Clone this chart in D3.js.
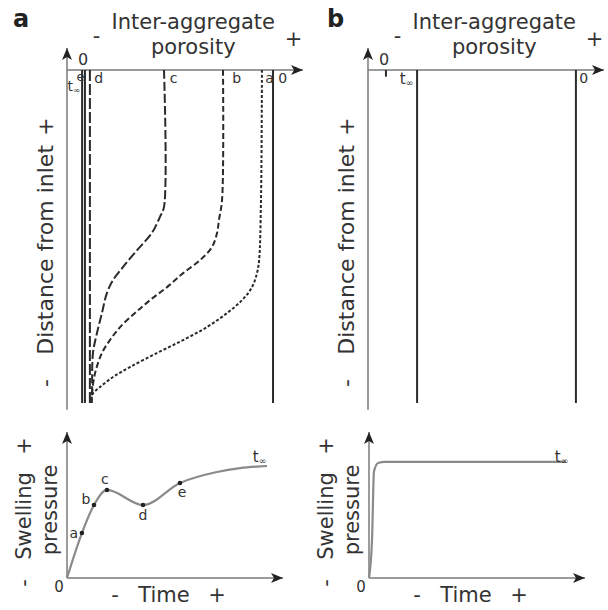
<!DOCTYPE html>
<html>
<head>
<meta charset="utf-8">
<title>Swelling profiles</title>
<script src="https://d3js.org/d3.v7.min.js"></script>
<style>
  body { margin: 0; background: #fff; }
  svg { display: block; font-family: "DejaVu Sans", Verdana, sans-serif; }
</style>
</head>
<body>
<div id="chart"></div>
<script>
// ---- data (porosity %, distance %) ----
const profileA = [[82.6,100],[82.2,61],[81.4,42.9],[80.5,39.0],[78.4,34.8],[74.2,30.9],[67.8,27.0],
                  [59.3,22.8],[49.2,18.9],[38.1,15.0],[26.7,10.8],[19.5,7.8],[14.0,4.8],[10.6,2.4],[10.4,0]];
const profileB = [[66.1,100],[65.7,61],[64.4,55.0],[63.6,51.1],[61.4,46.8],[56.4,42.9],[49.2,39.0],
                  [42.4,34.8],[35.2,30.9],[28.8,27.0],[22.5,22.8],[18.2,18.9],[14.8,15.0],[11.9,9.0],[10.6,3.0],[10.4,0]];
const profileC = [[41.1,100],[41.1,58.9],[39.4,55.9],[36.0,51.1],[29.7,45.9],[23.7,40.8],[19.5,36.9],
                  [16.9,33.0],[14.8,27.0],[12.7,21.0],[11.0,15.0],[10.6,3.0],[10.4,0]];
const straightA = [["tinf", 6.4], ["e", 7.6], ["d", 9.7], ["0", 87.3]];
const straightB = [["tinf", 20.8], ["0", 88.1]];
const labelsA = [["e", 4.0], ["d", 11.5], ["c", 43.5], ["b", 70.0], ["a", 84.0], ["0", 89.5]];

// ---- data (time %, swelling pressure %) ----
const swellA = [[0,0],[6.9,30.8],[12.5,50.0],[18.5,60.3],[35.2,50.0],[52.3,65.1],[69.4,72.6],[80.1,75.3],[92.6,76.7]];
const swellPointsA = [["a",6.9,30.8],["b",12.5,50.0],["c",18.5,60.3],["d",35.2,50.0],["e",52.3,65.1]];
const swellB = [[0,0],[1.4,26],[2.3,73],[4.2,78.8],[7.4,79.5],[91.2,79.5]];

const W = 608, H = 610;
const ink = "#333", axisCol = "#7a7a7a", curveCol = "#8a8a8a";

const svg = d3.select("#chart").append("svg").attr("width", W).attr("height", H);
svg.append("defs").append("marker")
  .attr("id", "arrow").attr("viewBox", "0 0 12 10")
  .attr("refX", 12).attr("refY", 5)
  .attr("markerWidth", 12).attr("markerHeight", 10)
  .attr("markerUnits", "userSpaceOnUse").attr("orient", "auto")
  .append("path").attr("d", "M0,0 L12,5 L0,10 L3,5 Z").attr("fill", "#222");

// ---- scales ----
const yDist = d3.scaleLinear().domain([0, 100]).range([403, 70]);
const xPorA = d3.scaleLinear().domain([0, 100]).range([67, 303]);
const xPorB = d3.scaleLinear().domain([0, 100]).range([368, 604]);
const pres = d3.scaleLinear().domain([0, 100]).range([578, 432]);
const timeA = d3.scaleLinear().domain([0, 100]).range([67, 283]);
const timeB = d3.scaleLinear().domain([0, 100]).range([369, 585]);

function txt(x, y, s, size, opts) {
  opts = opts || {};
  const t = svg.append("text").attr("x", x).attr("y", y)
    .attr("font-size", size).attr("fill", opts.fill || ink)
    .attr("text-anchor", opts.anchor || "middle")
    .attr("font-weight", opts.bold ? "bold" : "normal")
    .text(s);
  if (opts.rotate) t.attr("transform", `rotate(-90, ${x}, ${y})`);
  return t;
}
function tInf(x, y, size) {
  const t = svg.append("text").attr("x", x).attr("y", y).attr("font-size", size)
    .attr("fill", ink).attr("text-anchor", "start");
  t.append("tspan").text("t");
  t.append("tspan").attr("font-size", size * 0.62).attr("dy", 2).text("\u221e");
}

// ---- top panels ----
function topPanel(xs, letter, letterX) {
  const x0 = xs.range()[0];
  svg.append("line").attr("x1", x0).attr("y1", yDist(-2)).attr("x2", x0).attr("y2", yDist(106.6))
    .attr("stroke", axisCol).attr("stroke-width", 1.5).attr("marker-end", "url(#arrow)");
  svg.append("line").attr("x1", x0).attr("y1", yDist(100)).attr("x2", xs(100)).attr("y2", yDist(100))
    .attr("stroke", axisCol).attr("stroke-width", 1.5).attr("marker-end", "url(#arrow)");
  txt(letterX, 27, letter, 24, { bold: true, anchor: "start", fill: "#222" });
  const cx = xs(53.5);
  txt(cx, 29, "Inter-aggregate", 21);
  txt(cx, 54, "porosity", 21);
  txt(xs(12.5), 43, "-", 21);
  txt(xs(96), 46, "+", 21);
  txt(xs(6.8), 65, "0", 16);
  // y label
  const lx = x0 - 14;
  txt(lx, yDist(46), "Distance from inlet", 22, { rotate: true });
  txt(lx, yDist(6), "-", 22, { rotate: true });
  txt(lx, yDist(83), "+", 22, { rotate: true });
}
topPanel(xPorA, "a", 13);
topPanel(xPorB, "b", 327);

// straight profiles
const solid = (xs, v) => svg.append("line")
  .attr("x1", xs(v)).attr("x2", xs(v)).attr("y1", yDist(100)).attr("y2", yDist(0))
  .attr("stroke", "#2a2a2a").attr("stroke-width", 2);
straightA.forEach(d => {
  if (d[0] === "d") {
    svg.append("line").attr("x1", xPorA(d[1])).attr("x2", xPorA(d[1]))
      .attr("y1", yDist(100)).attr("y2", yDist(0))
      .attr("stroke", "#2a2a2a").attr("stroke-width", 2).attr("stroke-dasharray", "11,3");
  } else solid(xPorA, d[1]);
});
straightB.forEach(d => solid(xPorB, d[1]));

// curved profiles
const prof = d3.line().x(d => xPorA(d[0])).y(d => yDist(d[1])).curve(d3.curveCatmullRom);
[[profileC, "9,3"], [profileB, "6,3"], [profileA, "3,2"]].forEach(p => {
  svg.append("path").datum(p[0]).attr("d", prof)
    .attr("fill", "none").attr("stroke", "#2a2a2a").attr("stroke-width", 2)
    .attr("stroke-dasharray", p[1]);
});

// labels under the porosity axis
tInf(xPorA(0.2), 91, 14);
labelsA.forEach(d => txt(xPorA(d[1]), d[0] === "e" ? 81 : 83, d[0], d[0] === "e" ? 13 : 14, { anchor: "start" }));
tInf(xPorB(13.5), 84, 15);
txt(xPorB(89.5), 83, "0", 14, { anchor: "start" });
svg.append("line").attr("x1", xPorB(7.6)).attr("x2", xPorB(7.6))
  .attr("y1", yDist(100)).attr("y2", yDist(98))
  .attr("stroke", "#2a2a2a").attr("stroke-width", 2);

// ---- bottom panels ----
function bottomPanel(xs, data) {
  const x0 = xs.range()[0];
  svg.append("line").attr("x1", x0).attr("y1", pres(0)).attr("x2", x0).attr("y2", pres(100))
    .attr("stroke", axisCol).attr("stroke-width", 1.5).attr("marker-end", "url(#arrow)");
  svg.append("line").attr("x1", x0).attr("y1", pres(0)).attr("x2", xs(100)).attr("y2", pres(0))
    .attr("stroke", axisCol).attr("stroke-width", 1.5).attr("marker-end", "url(#arrow)");
  const ln = d3.line().x(d => xs(d[0])).y(d => pres(d[1])).curve(d3.curveMonotoneX);
  svg.append("path").datum(data).attr("d", ln)
    .attr("fill", "none").attr("stroke", curveCol).attr("stroke-width", 2.2);
  txt(x0 - 8, 592, "0", 15);
  txt(x0 + 48, 602, "-", 21);
  txt(x0 + 97, 602, "Time", 21);
  txt(x0 + 150, 602, "+", 21);
  txt(x0 - 36, 516, "Swelling", 21, { rotate: true });
  txt(x0 - 10, 510, "pressure", 21, { rotate: true });
  txt(x0 - 36, 583, "-", 21, { rotate: true });
  txt(x0 - 36, 446, "+", 21, { rotate: true });
  tInf(xs(86), 462, 15);
}
bottomPanel(timeA, swellA);
bottomPanel(timeB, swellB);

swellPointsA.forEach(d => {
  svg.append("circle").attr("cx", timeA(d[1])).attr("cy", pres(d[2])).attr("r", 2.3).attr("fill", "#222");
});
const ptLabel = { a: [-8, 5], b: [-8, -1], c: [-2, -6], d: [0, 15], e: [2, 14] };
swellPointsA.forEach(d => {
  const o = ptLabel[d[0]];
  txt(timeA(d[1]) + o[0], pres(d[2]) + o[1], d[0], 14);
});
</script>
</body>
</html>
